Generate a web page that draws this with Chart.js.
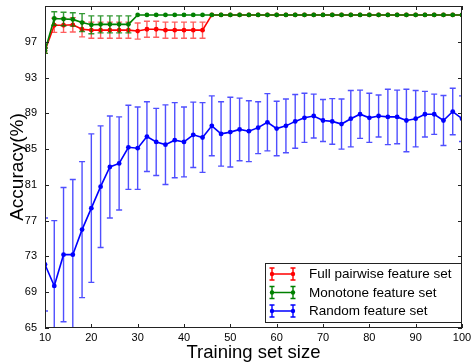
<!DOCTYPE html>
<html>
<head>
<meta charset="utf-8">
<script src="https://cdn.jsdelivr.net/npm/chart.js@4/dist/chart.umd.min.js"></script>
<style>
  html, body { margin: 0; padding: 0; background: #fff; }
  canvas { display: block; }
</style>
</head>
<body>
<canvas id="accuracyChart" width="472" height="364"></canvas>
<script>
// training set sizes (x axis)
const trainingSizes = [10, 12, 14, 16, 18, 20, 22, 24, 26, 28, 30, 32, 34, 36, 38, 40, 42, 44, 46, 48,
    50, 52, 54, 56, 58, 60, 62, 64, 66, 68, 70, 72, 74, 76, 78, 80, 82, 84, 86, 88,
    90, 92, 94, 96, 98, 100];

const seriesNames = ['Full pairwise feature set', 'Monotone feature set', 'Random feature set'];

const fullPairwise = [96.0, 98.85, 98.85, 98.9, 98.4, 98.3, 98.3, 98.3, 98.3, 98.3, 98.2, 98.4, 98.4, 98.3, 98.3, 98.3, 98.3, 98.3, 100, 100,
    100, 100, 100, 100, 100, 100, 100, 100, 100, 100, 100, 100, 100, 100, 100, 100, 100, 100, 100, 100,
    100, 100, 100, 100, 100, 100];
const fullPairwiseErr = [0.3, 0.8, 0.8, 0.8, 0.85, 0.9, 0.9, 0.9, 0.9, 0.9, 0.9, 0.9, 0.9, 0.9, 0.9, 0.9, 0.9, 0.9, 0, 0,
    0, 0, 0, 0, 0, 0, 0, 0, 0, 0, 0, 0, 0, 0, 0, 0, 0, 0, 0, 0,
    0, 0, 0, 0, 0, 0];

const monotone = [96.0, 99.6, 99.55, 99.5, 99.15, 98.9, 98.95, 98.95, 98.95, 98.95, 100, 100, 100, 100, 100, 100, 100, 100, 100, 100,
    100, 100, 100, 100, 100, 100, 100, 100, 100, 100, 100, 100, 100, 100, 100, 100, 100, 100, 100, 100,
    100, 100, 100, 100, 100, 100];
const monotoneErr = [0.3, 0.75, 0.75, 0.75, 1.0, 1.0, 0.95, 0.95, 0.95, 0.95, 0, 0, 0, 0, 0, 0, 0, 0, 0, 0,
    0, 0, 0, 0, 0, 0, 0, 0, 0, 0, 0, 0, 0, 0, 0, 0, 0, 0, 0, 0,
    0, 0, 0, 0, 0, 0];

const randomSet = [72.1, 69.7, 73.2, 73.2, 76.0, 78.4, 80.8, 83.0, 83.4, 85.2, 85.1, 86.4, 85.8, 85.5, 86.0, 85.8, 86.6, 86.3, 87.6, 86.7,
    86.9, 87.2, 87.0, 87.4, 88.0, 87.3, 87.6, 88.1, 88.5, 88.7, 88.2, 88.1, 87.8, 88.4, 88.9, 88.5, 88.7, 88.6, 88.6, 88.2,
    88.4, 88.9, 88.9, 88.2, 89.2, 88.4];
const randomErr = [5.2, 7.3, 7.5, 8.4, 7.6, 8.3, 6.8, 5.7, 5.2, 4.7, 4.6, 3.9, 3.75, 4.45, 4.2, 3.9, 3.65, 3.9, 3.35, 3.6,
    3.9, 3.5, 3.4, 2.9, 3.2, 3.05, 3.0, 3.0, 2.75, 2.45, 2.35, 2.55, 2.8, 3.15, 2.7, 2.75, 2.35, 3.1, 3.0, 3.5,
    3.15, 2.55, 2.25, 2.8, 2.6, 2.55];

const FONT = '"Liberation Sans", Arial, Helvetica, sans-serif';
Chart.defaults.font.family = FONT;
Chart.defaults.color = '#000';

const toPoints = vals => vals.map((v, i) => ({ x: trainingSizes[i], y: v }));

function makeSet(label, vals, errs, color, barColor, order) {
    return {
        label: label,
        data: toPoints(vals),
        errors: errs,
        barColor: barColor,
        borderColor: color,
        backgroundColor: color,
        borderWidth: 1.6,
        pointRadius: 2.4,
        pointBorderWidth: 0,
        pointBackgroundColor: color,
        tension: 0,
        order: order
    };
}

// error bars, drawn right before each dataset's line
const errorBars = {
    id: 'errorBars',
    beforeDatasetDraw(chart, args) {
        const ds = chart.data.datasets[args.index];
        if (!ds.errors) return;
        const { ctx, chartArea, scales } = chart;
        ctx.save();
        ctx.beginPath();
        ctx.rect(chartArea.left, chartArea.top, chartArea.right - chartArea.left, chartArea.bottom - chartArea.top);
        ctx.clip();
        ctx.strokeStyle = ds.barColor;
        ctx.lineWidth = 1.4;
        ds.data.forEach((p, i) => {
            const e = ds.errors[i];
            if (!e) return;
            const px = scales.x.getPixelForValue(p.x);
            const top = scales.y.getPixelForValue(p.y + e);
            const bot = scales.y.getPixelForValue(p.y - e);
            ctx.beginPath();
            ctx.moveTo(px, top); ctx.lineTo(px, bot);
            ctx.moveTo(px - 3, top); ctx.lineTo(px + 3, top);
            ctx.moveTo(px - 3, bot); ctx.lineTo(px + 3, bot);
            ctx.stroke();
        });
        ctx.restore();
    }
};

// matlab style box with inward ticks
const axesBox = {
    id: 'axesBox',
    afterDatasetsDraw(chart) {
        const { ctx, chartArea: a, scales } = chart;
        ctx.save();
        ctx.strokeStyle = '#222';
        ctx.lineWidth = 1;
        ctx.strokeRect(a.left + 0.5, a.top + 0.5, a.right - a.left - 1, a.bottom - a.top - 1);
        ctx.beginPath();
        scales.x.ticks.forEach(t => {
            const px = Math.round(scales.x.getPixelForValue(t.value)) + 0.5;
            ctx.moveTo(px, a.bottom); ctx.lineTo(px, a.bottom - 4);
            ctx.moveTo(px, a.top); ctx.lineTo(px, a.top + 4);
        });
        scales.y.ticks.forEach(t => {
            const py = Math.round(scales.y.getPixelForValue(t.value)) + 0.5;
            ctx.moveTo(a.left, py); ctx.lineTo(a.left + 4, py);
            ctx.moveTo(a.right, py); ctx.lineTo(a.right - 4, py);
        });
        ctx.stroke();
        ctx.restore();
    }
};

const boxLegend = {
    id: 'boxLegend',
    afterDraw(chart) {
        const { ctx, chartArea: a } = chart;
        const sets = [chart.data.datasets[2], chart.data.datasets[1], chart.data.datasets[0]];
        const w = 196, h = 59;
        const x0 = a.right - 1 - w, y0 = a.bottom - 6 - h;
        ctx.save();
        ctx.fillStyle = '#fff';
        ctx.fillRect(x0, y0, w, h);
        ctx.strokeStyle = '#222';
        ctx.lineWidth = 1;
        ctx.strokeRect(Math.round(x0) + 0.5, Math.round(y0) + 0.5, w, h);
        ctx.font = '13.5px ' + FONT;
        ctx.textBaseline = 'middle';
        sets.forEach((ds, i) => {
            const y = y0 + 11 + i * 18.5;
            const xa = x0 + 7, xb = x0 + 28;
            ctx.strokeStyle = ds.borderColor;
            ctx.lineWidth = 1.4;
            ctx.beginPath();
            ctx.moveTo(xa, y); ctx.lineTo(xb, y);
            [xa, xb].forEach(x => {
                ctx.moveTo(x, y - 6); ctx.lineTo(x, y + 6);
                ctx.moveTo(x - 2.5, y - 6); ctx.lineTo(x + 2.5, y - 6);
                ctx.moveTo(x - 2.5, y + 6); ctx.lineTo(x + 2.5, y + 6);
            });
            ctx.stroke();
            ctx.fillStyle = ds.borderColor;
            [xa, xb].forEach(x => {
                ctx.beginPath(); ctx.arc(x, y, 2.2, 0, Math.PI * 2); ctx.fill();
            });
            ctx.fillStyle = '#000';
            ctx.fillText(ds.label, x0 + 44, y + 0.5);
        });
        ctx.restore();
    }
};

const ctx = document.getElementById('accuracyChart').getContext('2d');
new Chart(ctx, {
    type: 'line',
    data: {
        datasets: [
            makeSet(seriesNames[2], randomSet, randomErr, '#0000ff', 'rgba(20,20,255,0.75)', 1),
            makeSet(seriesNames[1], monotone, monotoneErr, '#008000', 'rgba(0,128,0,0.8)', 2),
            makeSet(seriesNames[0], fullPairwise, fullPairwiseErr, '#ff0000', 'rgba(255,40,40,0.75)', 3)
        ]
    },
    options: {
        responsive: false,
        animation: false,
        layout: { padding: { left: 0, right: 10, top: 6, bottom: 0 } },
        plugins: {
            legend: { display: false },
            tooltip: { enabled: false }
        },
        scales: {
            x: {
                type: 'linear',
                min: 10,
                max: 100,
                grid: { display: false, drawTicks: false },
                border: { display: false },
                ticks: { stepSize: 10, autoSkip: false, maxRotation: 0, padding: 3, font: { size: 11 }, color: '#000' },
                title: { display: true, text: 'Training set size', font: { size: 18.5 }, color: '#000', padding: { top: 0, bottom: 0 } },
                afterFit(scale) {
                    scale.height = 36;
                    scale.paddingLeft = 0;
                    scale.paddingRight = 0;
                }
            },
            y: {
                min: 65,
                max: 101,
                grid: { display: false, drawTicks: false },
                border: { display: false },
                ticks: {
                    stepSize: 4,
                    autoSkip: false,
                    padding: 8,
                    font: { size: 11 },
                    color: '#000',
                    callback: v => (v > 97 ? '' : v)
                },
                title: { display: true, text: 'Accuracy(%)', font: { size: 19 }, color: '#000', padding: { top: 6, bottom: 0 } },
                afterFit(scale) {
                    scale.width = 45;
                    scale.paddingTop = 0;
                    scale.paddingBottom = 0;
                }
            }
        }
    },
    plugins: [errorBars, axesBox, boxLegend]
});
</script>
</body>
</html>
